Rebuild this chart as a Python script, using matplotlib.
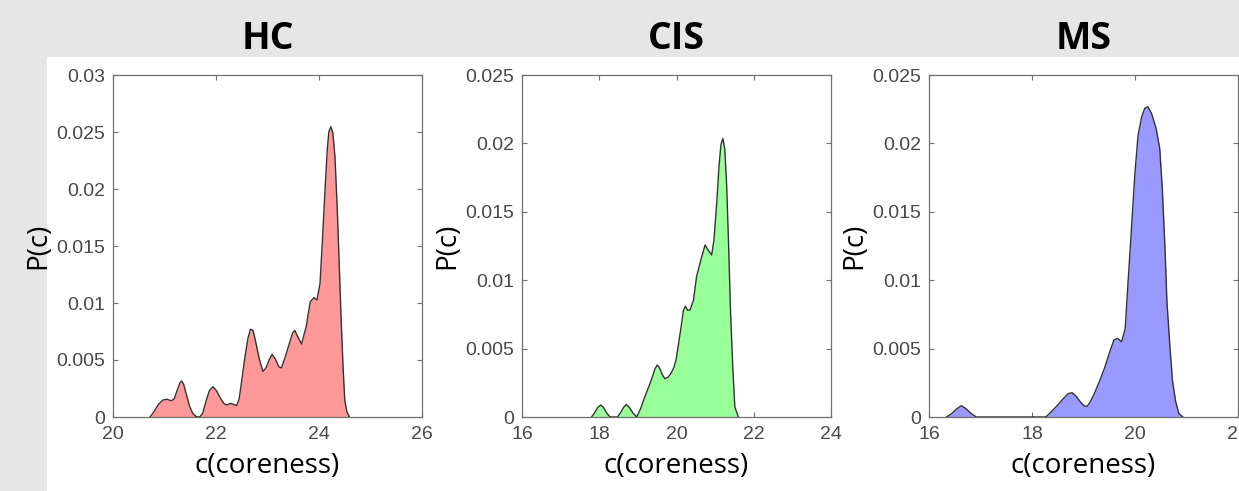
"""Coreness distributions P(c) for the HC, CIS and MS groups.

Saves out.png (1239x491) next to the script.
"""
from __future__ import annotations

import matplotlib

matplotlib.use("Agg")
import matplotlib.pyplot as plt
from matplotlib.patches import Rectangle
from matplotlib.ticker import FuncFormatter

GROUPS = ["HC", "CIS", "MS"]

HC_X = [20.72, 20.80, 20.88, 20.97, 21.05, 21.13, 21.19, 21.25, 21.30, 21.33,
        21.37, 21.43, 21.49, 21.55, 21.62, 21.68, 21.74, 21.80, 21.87, 21.94,
        22.01, 22.08, 22.15, 22.21, 22.28, 22.34, 22.40, 22.45, 22.50, 22.56,
        22.62, 22.67, 22.72, 22.77, 22.84, 22.91, 22.97, 23.03, 23.09, 23.15,
        23.22, 23.27, 23.34, 23.42, 23.49, 23.53, 23.58, 23.66, 23.75, 23.83,
        23.90, 23.96, 24.02, 24.07, 24.12, 24.16, 24.19, 24.23, 24.27, 24.31,
        24.35, 24.39, 24.43, 24.47, 24.50, 24.54, 24.59]
HC_Y = [0.0, 0.0005, 0.0011, 0.00149, 0.00156, 0.00142, 0.0016, 0.0024, 0.0030,
        0.00316, 0.0029, 0.0019, 0.0009, 0.0003, 0.00002, 0.0, 0.0003, 0.0013,
        0.0023, 0.00266, 0.0023, 0.0017, 0.0012, 0.00105, 0.0012, 0.0011,
        0.0010, 0.0016, 0.0032, 0.0052, 0.0069, 0.0077, 0.0076, 0.0066, 0.0051,
        0.0040, 0.0043, 0.0050, 0.0055, 0.0051, 0.0044, 0.0043, 0.0052, 0.0064,
        0.0074, 0.0076, 0.0071, 0.0064, 0.0079, 0.0101, 0.01047, 0.01026,
        0.01172, 0.0158, 0.0202, 0.0234, 0.0250, 0.02547, 0.0249, 0.0228,
        0.01875, 0.01377, 0.0085, 0.0041, 0.0015, 0.00047, 0.0]

CIS_X = [17.80, 17.88, 17.96, 18.04, 18.11, 18.19, 18.28, 18.47, 18.55, 18.63,
         18.70, 18.78, 18.87, 18.97, 19.07, 19.18, 19.28, 19.36, 19.44, 19.50,
         19.56, 19.63, 19.70, 19.78, 19.86, 19.93, 19.99, 20.05, 20.12, 20.18,
         20.23, 20.29, 20.35, 20.44, 20.52, 20.63, 20.74, 20.82, 20.91, 20.97,
         21.04, 21.10, 21.15, 21.20, 21.25, 21.30, 21.35, 21.40, 21.46, 21.51,
         21.60]
CIS_Y = [0.0, 0.0003, 0.0007, 0.00088, 0.0007, 0.0003, 0.0, 0.0, 0.0003,
         0.0007, 0.00092, 0.0007, 0.0003, 0.0, 0.0006, 0.00148, 0.0022, 0.0028,
         0.0035, 0.0038, 0.0036, 0.0031, 0.0028, 0.0029, 0.0032, 0.0036, 0.0042,
         0.0053, 0.0066, 0.0078, 0.0081, 0.0078, 0.00782, 0.00855, 0.01026,
         0.01148, 0.01257, 0.0122, 0.01184, 0.01294, 0.0156, 0.0183, 0.0199,
         0.02037, 0.0196, 0.01684, 0.01245, 0.00758, 0.00344, 0.00075, 0.0]

MS_X = [16.34, 16.44, 16.54, 16.63, 16.72, 16.82, 16.92, 18.27, 18.38, 18.50,
        18.60, 18.70, 18.78, 18.86, 18.94, 19.02, 19.07, 19.13, 19.22, 19.32,
        19.41, 19.50, 19.59, 19.66, 19.74, 19.81, 19.87, 19.94, 20.00, 20.06,
        20.13, 20.19, 20.25, 20.32, 20.41, 20.48, 20.53, 20.58, 20.62, 20.68,
        20.73, 20.79, 20.85, 20.93]
MS_Y = [0.0, 0.00025, 0.0006, 0.00083, 0.0006, 0.00025, 0.0, 0.0, 0.0004,
        0.00088, 0.0013, 0.0017, 0.00178, 0.0015, 0.0011, 0.0008, 0.00078,
        0.0011, 0.0018, 0.0027, 0.0036, 0.00465, 0.00563, 0.00575, 0.0055,
        0.00648, 0.01014, 0.01428, 0.0179, 0.0206, 0.02195, 0.02257, 0.02268,
        0.0222, 0.0211, 0.01964, 0.01672, 0.01257, 0.00843, 0.00502, 0.00258,
        0.00112, 0.00027, 0.0]

X_LIMITS = [(20, 26), (16, 24), (16, 22)]
X_TICKS = [[20, 22, 24, 26], [16, 18, 20, 22, 24], [16, 18, 20, 22]]
Y_LIMITS = [(0, 0.03), (0, 0.025), (0, 0.025)]
Y_TICKS = [[0, 0.005, 0.01, 0.015, 0.02, 0.025, 0.03],
           [0, 0.005, 0.01, 0.015, 0.02, 0.025],
           [0, 0.005, 0.01, 0.015, 0.02, 0.025]]

FILL_COLORS = ["#ff9999", "#99ff99", "#9999ff"]
AXES_LEFT = [113, 522, 929]
FIG_W, FIG_H = 1239, 491


def draw_panel(fig, i, xs, ys):
    left = AXES_LEFT[i] / FIG_W
    ax = fig.add_axes([left, 74 / FIG_H, 309 / FIG_W, 342 / FIG_H])
    ax.set_facecolor("white")
    ax.fill_between(xs, ys, 0, color=FILL_COLORS[i], linewidth=0, zorder=2)
    ax.plot(xs, ys, color="#333333", linewidth=1.0, zorder=3,
            solid_joinstyle="round")

    ax.set_xlim(*X_LIMITS[i])
    ax.set_ylim(*Y_LIMITS[i])
    ax.set_xticks(X_TICKS[i])
    ax.set_yticks(Y_TICKS[i])
    fmt = FuncFormatter(lambda v, _: f"{v:g}")
    ax.xaxis.set_major_formatter(fmt)
    ax.yaxis.set_major_formatter(fmt)

    for spine in ax.spines.values():
        spine.set_color("#707070")
        spine.set_linewidth(0.9)
    ax.tick_params(direction="in", top=True, right=True, length=3.5,
                   width=0.8, color="#707070", labelcolor="#484848",
                   labelsize=14)
    ax.tick_params(axis="x", pad=6.5)
    ax.tick_params(axis="y", pad=5.5)
    for lbl in ax.get_xticklabels() + ax.get_yticklabels():
        lbl.set_fontfamily("Liberation Sans")

    ax.set_xlabel("c(coreness)", fontfamily="Open Sans", fontsize=20,
                  color="black", va="baseline")
    ax.xaxis.set_label_coords(0.5, -0.164)
    ax.set_ylabel("P(c)", fontfamily="Open Sans", fontsize=20,
                  color="black", va="center", ha="center")
    ax.yaxis.set_label_coords(-0.242, 0.5)

    fig.text(left + 309 / FIG_W / 2, 1 - 39 / FIG_H, GROUPS[i],
             fontfamily="Open Sans", fontweight="bold", fontsize=27,
             ha="center", va="center")
    return ax


def main() -> None:
    fig = plt.figure(figsize=(FIG_W / 100, FIG_H / 100), dpi=100)
    fig.patch.set_facecolor("#e6e6e6")
    fig.add_artist(Rectangle((47 / FIG_W, 0), 1, (FIG_H - 57) / FIG_H,
                             transform=fig.transFigure, facecolor="white",
                             edgecolor="none", zorder=0))

    series = [(HC_X, HC_Y), (CIS_X, CIS_Y), (MS_X, MS_Y)]
    for i, (xs, ys) in enumerate(series):
        draw_panel(fig, i, xs, ys)

    fig.savefig("out.png", dpi=100, facecolor=fig.get_facecolor())
    plt.close(fig)


if __name__ == "__main__":
    main()
